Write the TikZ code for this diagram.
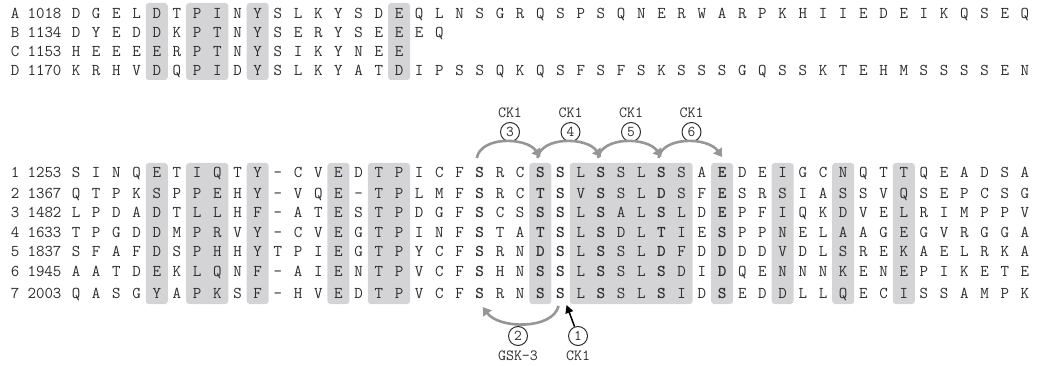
\documentclass[tikz,border=0pt]{standalone}
\usepackage{fontspec}
\usetikzlibrary{arrows.meta,calc}
\definecolor{shadecol}{RGB}{212,212,214}
\definecolor{txt}{RGB}{45,45,45}
\definecolor{arccol}{RGB}{150,150,150}
\newcommand\bb[1]{\textbf{#1}}
\newcommand\seqrow[3]{%
  \foreach \c [count=\i from 0] in {#3} {\node[aa] (#1-\i) at ({76+\i*20.19},#2) {\c};}}
\newcommand\shadecols[4]{% from col, to col, ytop, ybottom
  \fill[shadecol,rounded corners=3pt] ({76+#1*20.19-11},#3) rectangle ({76+#2*20.19+11},#4);}
\begin{document}
\begin{tikzpicture}[x=1pt,y=-1pt,
  aa/.style={inner sep=0pt,text height=10pt,text depth=0pt,font=\ttfamily\fontsize{16.5}{16.5}\selectfont,text=txt},
  circ/.style={circle,draw=txt,line width=1pt,minimum size=19pt,inner sep=0pt,font=\ttfamily\fontsize{15}{15}\selectfont,text=txt},
  lab/.style={inner sep=0pt,font=\ttfamily\fontsize{15.5}{15.5}\selectfont,text=txt},
  garc/.style={draw=arccol,line width=2.6pt,-{Triangle[width=10pt,length=8pt]}},
  karr/.style={draw=black,line width=1.5pt,-{Triangle[width=8pt,length=8pt]}}]
\useasboundingbox (0,0) rectangle (1040,366);
% shading top block
\foreach \a/\b in {4/4,6/7,9/9,16/16} {\shadecols{\a}{\b}{3}{80}}
% shading bottom block
\foreach \a/\b in {4/4,6/7,9/9,13/13,15/16,23/23,25/30,32/32,35/35,38/38,41/41} {\shadecols{\a}{\b}{163}{304}}
% top rows
\foreach \n/\k/\y in {A/1018/14,B/1134/33,C/1153/52,D/1170/71} {
  \node[aa] (l\n) at (15,\y) {\n};
  \node[aa] (n\n) at (44.5,\y) {\k};
}
\seqrow{rA}{14}{D,G,E,L,D,T,P,I,N,Y,S,L,K,Y,S,D,E,Q,L,N,S,G,R,Q,S,P,S,Q,N,E,R,W,A,R,P,K,H,I,I,E,D,E,I,K,Q,S,E,Q}
\seqrow{rB}{33}{D,Y,E,D,D,K,P,T,N,Y,S,E,R,Y,S,E,E,E,Q}
\seqrow{rC}{52}{H,E,E,E,E,R,P,T,N,Y,S,I,K,Y,N,E,E}
\seqrow{rD}{71}{K,R,H,V,D,Q,P,I,D,Y,S,L,K,Y,A,T,D,I,P,S,S,Q,K,Q,S,F,S,F,S,K,S,S,S,G,Q,S,S,K,T,E,H,M,S,S,S,S,E,N}
% bottom rows
\foreach \n/\k/\y in {1/1253/173,2/1367/193,3/1482/212.5,4/1633/232,5/1837/251.5,6/1945/271,7/2003/293} {
  \node[aa] (l\n) at (15,\y) {\n};
  \node[aa] (n\n) at (44.5,\y) {\k};
}
\seqrow{r1}{173}{S,I,N,Q,E,T,I,Q,T,Y,-,C,V,E,D,T,P,I,C,F,\bb S,R,C,\bb S,\bb S,L,\bb S,S,L,\bb S,S,A,\bb E,D,E,I,G,C,N,Q,T,T,Q,E,A,D,S,A}
\seqrow{r2}{193}{Q,T,P,K,S,P,P,E,H,Y,-,V,Q,E,-,T,P,L,M,F,\bb S,R,C,\bb T,\bb S,V,\bb S,S,L,\bb D,S,F,\bb E,S,R,S,I,A,S,S,V,Q,S,E,P,C,S,G}
\seqrow{r3}{212.5}{L,P,D,A,D,T,L,L,H,F,-,A,T,E,S,T,P,D,G,F,\bb S,C,S,\bb S,\bb S,L,\bb S,A,L,\bb S,L,D,\bb E,P,F,I,Q,K,D,V,E,L,R,I,M,P,P,V}
\seqrow{r4}{232}{T,P,G,D,D,M,P,R,V,Y,-,C,V,E,G,T,P,I,N,F,\bb S,T,A,\bb T,\bb S,L,\bb S,D,L,\bb T,I,E,\bb S,P,P,N,E,L,A,A,G,E,G,V,R,G,G,A}
\seqrow{r5}{251.5}{S,F,A,F,D,S,P,H,H,Y,T,P,I,E,G,T,P,Y,C,F,\bb S,R,N,\bb D,\bb S,L,\bb S,S,L,\bb D,F,D,\bb D,D,D,V,D,L,S,R,E,K,A,E,L,R,K,A}
\seqrow{r6}{271}{A,A,T,D,E,K,L,Q,N,F,-,A,I,E,N,T,P,V,C,F,\bb S,H,N,\bb S,\bb S,L,\bb S,S,L,\bb S,D,I,\bb D,Q,E,N,N,N,K,E,N,E,P,I,K,E,T,E}
\seqrow{r7}{293}{Q,A,S,G,Y,A,P,K,S,F,-,H,V,E,D,T,P,V,C,F,\bb S,R,N,\bb S,\bb S,L,\bb S,S,L,\bb S,I,D,\bb S,E,D,D,L,L,Q,E,C,I,S,S,A,M,P,K}
% top CK1 arcs
\foreach \s/\e/\m/\x in {20/23/3/510,23/26/4/570.5,26/29/5/631,29/32/6/691.5} {
  \node[circ] (c\m) at (\x,132) {\m};
  \node[lab] (t\m) at (\x,113) {CK1};
  \draw[garc] ($(r1-\s)+(-3,-15)$) .. controls +(4,-22) and +(-14,-20) .. ($(r1-\e)+(0,-16)$);
}
% bottom arrows
\node[circ] (c2) at (518,336) {2};
\node[lab] (t2) at (518,356) {GSK-3};
\node[circ] (c1) at (578,336) {1};
\node[lab] (t1) at (578,356) {CK1};
\draw[garc] ($(r7-24)+(-2,13)$) .. controls +(-6,24) and +(16,22) .. ($(r7-20)+(3,14)$);
\draw[karr] (c1) -- ($(r7-24)+(6,12)$);
\end{tikzpicture}
\end{document}
